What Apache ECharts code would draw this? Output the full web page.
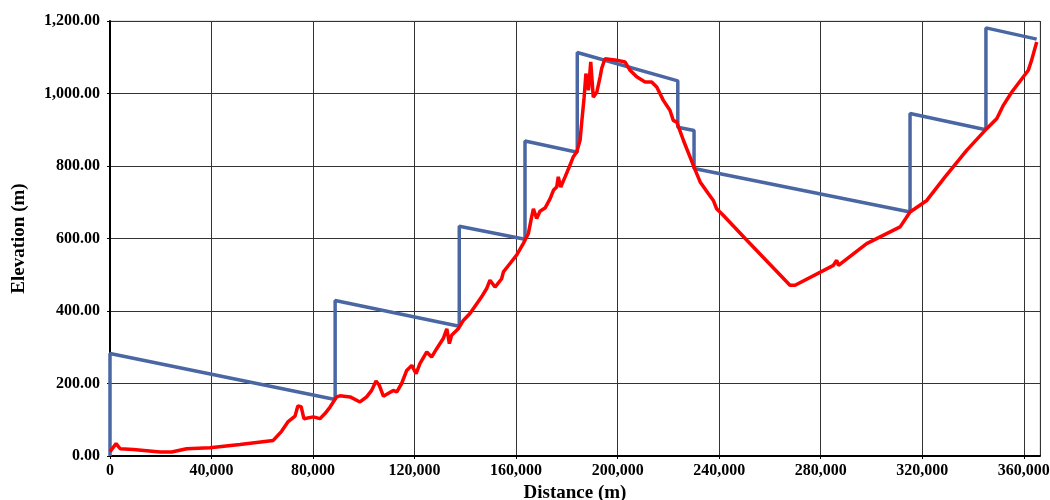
<!DOCTYPE html>
<html>
<head>
<meta charset="utf-8">
<script src="https://cdn.jsdelivr.net/npm/echarts@6/dist/echarts.min.js"></script>
<style>
  html, body { margin: 0; padding: 0; background: #fff; }
  #main { width: 1050px; height: 500px; }
</style>
</head>
<body>
<div id="main"></div>
<script>
// hydraulic grade line (blue), distance in m / elevation in m
var gradeDist = [0, 0, 88700, 88700, 137600, 137600, 163500, 163500, 184100, 184100,
  223700, 223700, 230100, 230100, 315200, 315200, 345100, 345100, 365100];
var gradeElev = [0, 283, 156, 429, 358, 634, 598, 869, 838, 1113,
  1035, 907, 898, 793, 673, 945, 900, 1181, 1150];

// ground profile (red)
var groundDist = [0, 2400, 4000, 9200, 19700, 24300, 30200, 39400, 51200, 64300,
  67600, 70200, 72900, 74000, 75300, 76400, 80100, 82700, 84700, 86700,
  89300, 90600, 94600, 98500, 101100, 103100, 104800, 106100, 107700, 111600,
  113000, 114900, 116900, 118900, 120600, 122100, 124800, 126700, 128700, 131300,
  132700, 133700, 134600, 137200, 139200, 141800, 144500, 146400, 148400, 149700,
  151700, 154300, 155000, 157600, 160200, 162800, 164800, 166100, 166800, 168100,
  169400, 171400, 173400, 174700, 176000, 176600, 177600, 179300, 181200, 182500,
  183900, 185200, 185800, 186800, 187500, 188500, 189400, 190400, 191800, 193100,
  193700, 195000, 199600, 202900, 204900, 207500, 210800, 213400, 215400, 218000,
  220600, 221900, 223300, 225900, 228500, 230500, 232500, 235700, 237700, 239000,
  241600, 250900, 267900, 269900, 285000, 286300, 287000, 298100, 311300, 315200,
  321800, 329000, 337500, 345400, 349400, 352000, 355300, 361800, 363100, 365100];
var groundElev = [12, 34, 20, 18, 11, 11, 20, 23, 32, 43,
  68, 95, 110, 138, 136, 103, 108, 103, 117, 135,
  163, 166, 163, 149, 163, 181, 207, 195, 165, 181,
  177, 200, 236, 250, 227, 255, 287, 273, 296, 324,
  351, 310, 333, 351, 374, 393, 420, 439, 462, 485,
  466, 489, 508, 531, 554, 586, 613, 659, 682, 655,
  675, 684, 710, 733, 742, 770, 742, 770, 802, 825,
  839, 871, 917, 990, 1055, 1009, 1087, 990, 1004, 1046,
  1069, 1096, 1092, 1087, 1064, 1046, 1032, 1032, 1018, 981,
  954, 926, 921, 871, 825, 790, 756, 724, 705, 682,
  664, 595, 471, 471, 526, 540, 526, 586, 632, 673,
  705, 770, 843, 903, 931, 968, 1004, 1064, 1092, 1142];

function zip(xs, ys) {
  var out = [];
  for (var i = 0; i < xs.length; i++) out.push([xs[i], ys[i]]);
  return out;
}

var font = 'Liberation Serif, Times New Roman, serif';
var chart = echarts.init(document.getElementById('main'));

var option = {
  animation: false,
  backgroundColor: '#fff',
  grid: {
    left: 110, right: 10, top: 21, bottom: 44,
    outerBoundsMode: 'none',
    containLabel: false,
    show: true, borderColor: '#c8c8c8', borderWidth: 1
  },
  xAxis: {
    type: 'value',
    min: 0, max: 366400, interval: 40000,
    name: 'Distance (m)',
    nameLocation: 'middle',
    nameGap: 24,
    nameTextStyle: { fontFamily: font, fontWeight: 'bold', fontSize: 19, color: '#000' },
    axisLine: { show: true, lineStyle: { color: '#000', width: 2 } },
    axisTick: { show: true, length: 3, lineStyle: { color: '#000' } },
    axisLabel: {
      fontFamily: font, fontWeight: 'bold', fontSize: 16, color: '#000', margin: 7,
      showMaxLabel: false,
      formatter: function (v) { return v.toLocaleString('en-US'); }
    },
    splitLine: { show: true, lineStyle: { color: '#333', width: 1 } }
  },
  yAxis: {
    type: 'value',
    min: 0, max: 1200, interval: 200,
    offset: 4,
    name: 'Elevation (m)',
    nameLocation: 'middle',
    nameGap: 77,
    nameTextStyle: { fontFamily: font, fontWeight: 'bold', fontSize: 19, color: '#000' },
    axisLine: { show: true, lineStyle: { color: '#000', width: 2 } },
    axisTick: { show: true, length: 3, lineStyle: { color: '#000' } },
    axisLabel: {
      fontFamily: font, fontWeight: 'bold', fontSize: 16, color: '#000', margin: 6,
      formatter: function (v) {
        return v.toLocaleString('en-US', { minimumFractionDigits: 2, maximumFractionDigits: 2 });
      }
    },
    splitLine: { show: true, lineStyle: { color: '#333', width: 1 } }
  },
  series: [
    {
      name: 'grade',
      type: 'line',
      data: zip(gradeDist, gradeElev),
      showSymbol: false,
      lineStyle: { color: '#4A67A3', width: 3.5 },
      z: 2
    },
    {
      name: 'ground',
      type: 'line',
      data: zip(groundDist, groundElev),
      showSymbol: false,
      lineStyle: { color: '#FF0000', width: 3.5 },
      z: 3
    }
  ]
};

chart.setOption(option);
</script>
</body>
</html>
